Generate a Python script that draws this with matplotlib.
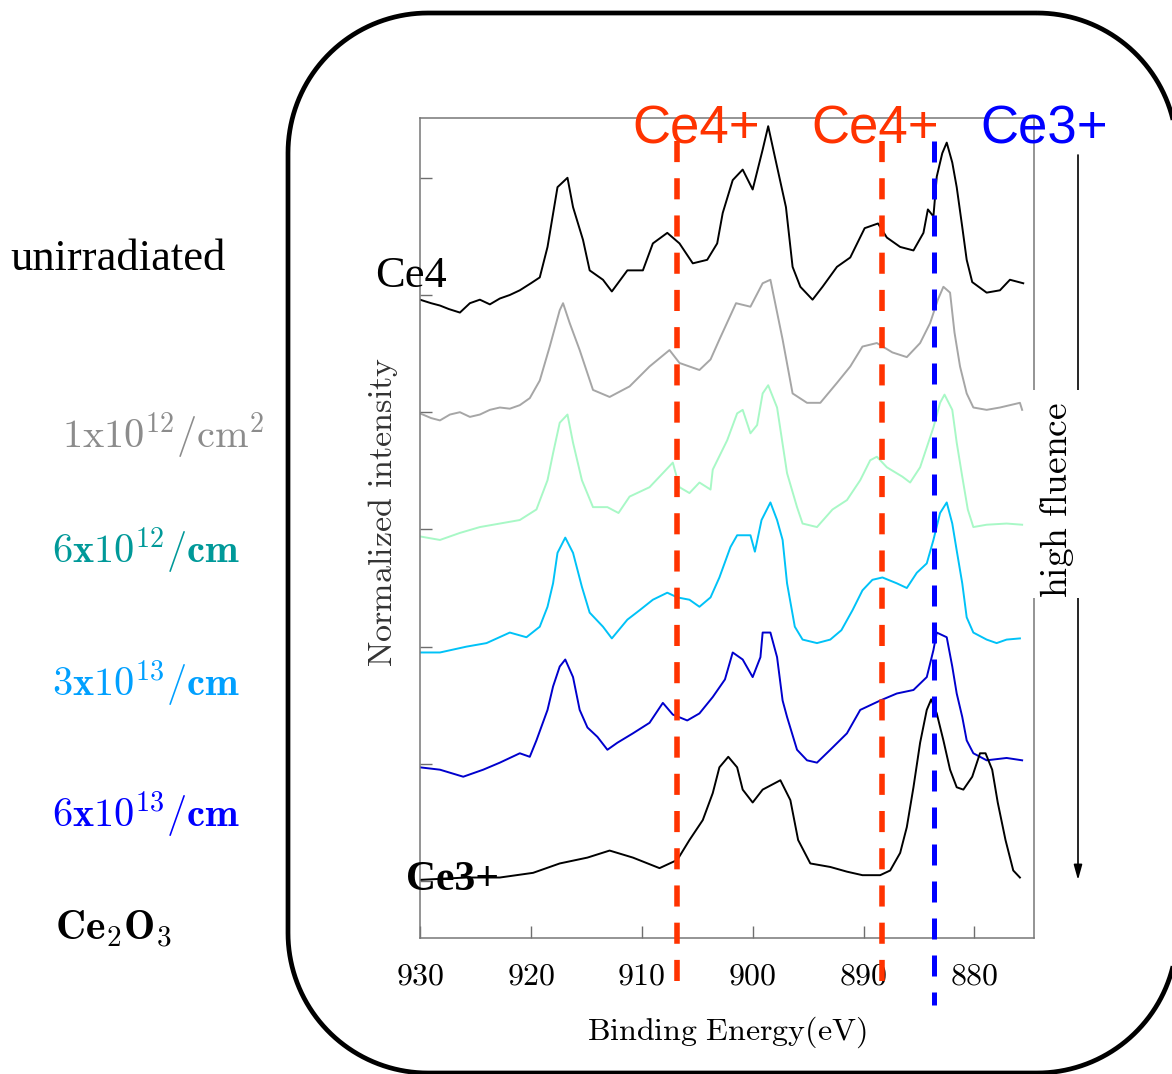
import numpy as np
import matplotlib.pyplot as plt
from matplotlib.patches import PathPatch, Rectangle
from matplotlib.path import Path

plt.rcParams['mathtext.fontset'] = 'cm'

# XPS Ce 3d spectra, binding energy (eV) vs normalized intensity (stacked with offsets)
e_unirr = [930.0, 929.0, 928.2, 927.4, 926.4, 925.5, 924.6, 923.7, 922.8, 921.9, 921.0, 920.0,
           919.2, 918.5, 917.6, 916.7, 916.2, 915.3, 914.7, 913.5, 912.7, 911.3, 909.9, 909.0,
           907.7, 906.6, 905.4, 904.1, 903.2, 902.7, 901.8, 900.9, 900.0, 899.1, 898.6, 898.0,
           897.0, 896.4, 895.7, 894.6, 893.7, 892.4, 891.2, 889.9, 888.7, 887.9, 886.7, 885.5,
           884.6, 884.2, 883.7, 883.4, 882.9, 882.5, 882.0, 881.6, 881.1, 880.7, 880.2, 878.9,
           877.7, 876.8, 875.6]
i_unirr = [4.96, 4.93, 4.91, 4.88, 4.85, 4.93, 4.96, 4.92, 4.97, 5.00, 5.04, 5.10,
           5.15, 5.41, 5.92, 6.00, 5.75, 5.47, 5.21, 5.13, 5.03, 5.21, 5.21, 5.44,
           5.53, 5.44, 5.27, 5.30, 5.44, 5.70, 5.98, 6.07, 5.90, 6.24, 6.44, 6.18,
           5.75, 5.24, 5.07, 4.96, 5.07, 5.24, 5.32, 5.57, 5.61, 5.49, 5.41, 5.38,
           5.53, 5.73, 5.67, 6.01, 6.21, 6.30, 6.13, 5.92, 5.58, 5.30, 5.11, 5.02,
           5.04, 5.13, 5.10]

e_1e12 = [930.0, 929.0, 928.2, 927.3, 926.4, 925.5, 924.6, 923.7, 922.8, 921.9, 921.0, 920.1,
          919.2, 918.3, 917.4, 917.1, 916.5, 915.6, 914.4, 912.9, 911.1, 909.3, 907.5, 906.6,
          904.8, 903.8, 903.0, 901.5, 900.2, 899.1, 898.4, 897.3, 896.4, 895.1, 893.9, 892.4,
          891.2, 890.1, 888.8, 887.4, 886.1, 884.9, 884.0, 883.3, 882.8, 882.2, 881.8, 881.3,
          880.7, 880.1, 878.9, 877.7, 875.9, 875.7]
i_1e12 = [3.99, 3.95, 3.93, 3.98, 4.00, 3.96, 3.98, 4.02, 4.04, 4.03, 4.06, 4.12,
          4.27, 4.56, 4.87, 4.93, 4.76, 4.53, 4.19, 4.13, 4.22, 4.39, 4.53, 4.42,
          4.36, 4.45, 4.62, 4.93, 4.90, 5.10, 5.13, 4.62, 4.16, 4.08, 4.08, 4.25,
          4.39, 4.56, 4.59, 4.51, 4.47, 4.59, 4.76, 4.96, 5.07, 5.02, 4.68, 4.39,
          4.16, 4.04, 4.02, 4.04, 4.08, 4.02]

e_6e12 = [930.0, 928.2, 926.4, 924.6, 922.8, 921.0, 919.5, 918.5, 918.0, 917.4, 916.7, 916.2,
          915.4, 914.4, 913.1, 912.1, 911.1, 909.3, 907.2, 906.6, 905.7, 904.8, 903.8, 903.6,
          902.3, 901.4, 900.9, 900.2, 899.6, 899.1, 898.6, 897.8, 896.9, 896.0, 895.5, 894.2,
          892.8, 891.5, 890.3, 889.4, 888.8, 887.9, 886.5, 885.8, 884.9, 884.3, 883.7, 883.1,
          882.7, 882.0, 881.6, 881.1, 880.6, 880.1, 878.9, 877.1, 875.7]
i_6e12 = [2.94, 2.91, 2.97, 3.02, 3.05, 3.08, 3.17, 3.42, 3.65, 3.91, 3.98, 3.74,
          3.42, 3.19, 3.19, 3.14, 3.28, 3.36, 3.57, 3.36, 3.31, 3.40, 3.34, 3.51,
          3.76, 3.99, 4.02, 3.82, 3.89, 4.16, 4.23, 4.04, 3.48, 3.19, 3.05, 3.02,
          3.17, 3.25, 3.42, 3.59, 3.62, 3.53, 3.45, 3.40, 3.53, 3.70, 3.87, 4.08,
          4.15, 4.02, 3.74, 3.45, 3.17, 3.02, 3.04, 3.05, 3.04]

e_3e13 = [930.0, 928.2, 925.8, 924.0, 921.9, 920.4, 919.2, 918.5, 918.0, 917.6, 916.9, 916.2,
          915.4, 914.7, 913.5, 912.7, 911.3, 910.2, 909.0, 907.7, 906.8, 905.7, 904.8, 903.8,
          903.0, 902.0, 901.4, 900.2, 899.8, 899.2, 898.4, 897.8, 897.3, 896.9, 896.2, 895.5,
          894.2, 893.0, 892.0, 891.0, 890.1, 889.2, 888.3, 887.0, 886.1, 885.2, 884.3, 883.7,
          883.1, 882.5, 882.0, 881.6, 881.1, 880.7, 880.1, 878.9, 878.0, 877.1, 875.9]
i_3e13 = [1.95, 1.95, 2.00, 2.03, 2.12, 2.08, 2.17, 2.34, 2.54, 2.80, 2.93, 2.80,
          2.51, 2.29, 2.17, 2.07, 2.23, 2.31, 2.40, 2.46, 2.42, 2.40, 2.34, 2.42,
          2.59, 2.85, 2.95, 2.95, 2.81, 3.08, 3.23, 3.08, 2.91, 2.54, 2.17, 2.06,
          2.03, 2.06, 2.14, 2.31, 2.48, 2.57, 2.59, 2.54, 2.50, 2.63, 2.71, 2.91,
          3.14, 3.23, 3.05, 2.82, 2.54, 2.25, 2.12, 2.06, 2.03, 2.06, 2.07]

e_6e13 = [930.0, 928.2, 926.1, 924.3, 922.8, 921.0, 920.1, 919.5, 918.5, 918.0, 917.4, 916.9,
          916.2, 915.6, 914.9, 914.0, 913.1, 912.2, 910.8, 909.3, 908.1, 907.2, 905.9, 904.8,
          903.6, 902.5, 901.8, 900.9, 900.0, 899.3, 899.1, 898.4, 897.8, 897.3, 896.9, 896.0,
          895.1, 894.2, 893.0, 891.5, 890.3, 888.5, 887.0, 885.5, 884.3, 883.7, 883.4, 882.5,
          882.0, 881.6, 881.1, 880.7, 880.1, 878.9, 877.1, 875.7]
i_6e13 = [0.97, 0.95, 0.89, 0.95, 1.01, 1.09, 1.06, 1.20, 1.46, 1.66, 1.83, 1.89,
          1.74, 1.46, 1.31, 1.23, 1.12, 1.18, 1.26, 1.35, 1.52, 1.42, 1.37, 1.43,
          1.57, 1.72, 1.95, 1.89, 1.74, 1.91, 2.12, 2.12, 1.91, 1.54, 1.40, 1.12,
          1.03, 1.01, 1.12, 1.26, 1.46, 1.54, 1.60, 1.63, 1.74, 1.97, 2.12, 2.08,
          1.83, 1.60, 1.40, 1.20, 1.09, 1.03, 1.05, 1.03]

e_ce2o3 = [930.0, 925.8, 922.8, 919.8, 917.4, 914.9, 912.9, 910.8, 908.4, 906.8, 905.7, 904.5,
           903.6, 903.0, 902.2, 901.4, 900.9, 900.0, 899.1, 897.5, 896.6, 895.9, 894.8, 893.0,
           891.5, 890.1, 888.5, 887.6, 886.7, 886.1, 885.5, 884.9, 884.3, 883.9, 883.4, 882.8,
           882.2, 881.6, 881.0, 880.2, 879.5, 879.0, 878.4, 877.9, 877.2, 876.5, 875.9]
i_ce2o3 = [0.01, 0.03, 0.03, 0.07, 0.15, 0.20, 0.26, 0.20, 0.11, 0.18, 0.35, 0.52,
           0.75, 0.97, 1.06, 0.97, 0.78, 0.67, 0.78, 0.86, 0.69, 0.35, 0.15, 0.12,
           0.08, 0.05, 0.05, 0.09, 0.24, 0.46, 0.80, 1.18, 1.46, 1.55, 1.43, 1.20,
           0.95, 0.80, 0.78, 0.89, 1.09, 1.09, 0.95, 0.67, 0.35, 0.09, 0.03]

curves = [
    (e_unirr, i_unirr, 'black'),
    (e_1e12, i_1e12, '#A6A6A6'),
    (e_6e12, i_6e12, '#A8F8C6'),
    (e_3e13, i_3e13, '#00C2F7'),
    (e_6e13, i_6e13, '#0000CD'),
    (e_ce2o3, i_ce2o3, 'black'),
]

ce4_peaks = [906.8, 888.3]
ce3_peak = 883.65
x_ticks = [930, 920, 910, 900, 890, 880]

sample_labels = ['unirradiated', r'$\mathrm{1x10^{12}/cm^{2}}$', r'$\mathbf{6x10^{12}/cm}$',
                 r'$\mathbf{3x10^{13}/cm}$', r'$\mathbf{6x10^{13}/cm}$',
                 r'$\mathbf{Ce_{\mathbf{2}}O_{\mathbf{3}}}$']
label_colors = ['black', '#8C8C8C', '#009999', '#00A0FF', '#0000FF', 'black']

W, H = 1172, 1074
fig = plt.figure(figsize=(W / 100, H / 100), dpi=100)

# main plot, placed in pixels
ax = fig.add_axes([420 / W, 1 - 938 / H, 614 / W, 820 / H])
for e, i, c in curves:
    ax.plot(e, i, color=c, lw=1.4, zorder=2)

ax.set_xlim(930, 874.63)
ax.set_ylim(-0.486, 6.51)
ax.set_xticks(x_ticks)
ax.set_xticklabels([f'${t}$' for t in x_ticks])
ax.set_yticks(range(7))
ax.set_yticklabels([])
ax.tick_params(direction='in', length=8.5, width=1, color='#6e6e6e', labelsize=23, pad=16)
for s in ax.spines.values():
    s.set_color('#777777')
    s.set_linewidth(1.1)

ax.set_xlabel(r'$\mathrm{Binding\ Energy(eV)}$', fontsize=23)
ax.xaxis.set_label_coords(0.5, -0.093)
ax.set_ylabel(r'$\mathrm{Normalized\ intensity}$', fontsize=24.5, color='#333333')
ax.yaxis.set_label_coords(-0.033, 0.52)

for x in ce4_peaks:
    ax.plot([x, x], [0.972, -0.068], transform=ax.get_xaxis_transform(), clip_on=False,
            color='#FF3300', lw=4, dashes=(3.8, 2.9), dash_capstyle='butt', zorder=3)
ax.plot([ce3_peak, ce3_peak], [0.972, -0.082], transform=ax.get_xaxis_transform(), clip_on=False,
        color='#0000FF', lw=3.6, dashes=(4.2, 3.2), dash_capstyle='butt', zorder=3)

# overlay in pixel coordinates (y measured from the top) for the frame and annotations
ov = fig.add_axes([0, 0, 1, 1])
ov.set_xlim(0, W)
ov.set_ylim(H, 0)
ov.axis('off')
ov.set_zorder(5)

# rounded frame: left, top, right, bottom and corner radius in pixels
fl, ft, fr, fb, rad = 288, 13, 1177, 1073, 140
corners = [(fr - rad, ft + rad, -90, 0), (fr - rad, fb - rad, 0, 90),
           (fl + rad, fb - rad, 90, 180), (fl + rad, ft + rad, 180, 270)]
pts = []
for cx, cy, a0, a1 in corners:
    a = np.radians(np.linspace(a0, a1, 40))
    pts += list(zip(cx + rad * np.cos(a), cy + rad * np.sin(a)))
pts.append(pts[0])
ov.add_patch(PathPatch(Path(pts), fill=False, edgecolor='black', lw=3.4, clip_on=False))

label_x = [10, 62, 52, 52, 52, 55]
label_y = [270, 448, 563, 697, 828, 940]
label_fs = [32, 29, 29, 29, 29, 30]
for txt, c, x, y, fs in zip(sample_labels, label_colors, label_x, label_y, label_fs):
    fam = 'Liberation Serif' if txt == 'unirradiated' else None
    ov.text(x, y, txt, color=c, fontsize=fs, ha='left', va='baseline', family=fam)

for x, txt, c in [(696, 'Ce4+', '#FF3300'), (875, 'Ce4+', '#FF3300'), (1044, 'Ce3+', '#0000FF')]:
    ov.text(x, 143, txt, color=c, fontsize=38, family='Liberation Sans',
            ha='center', va='baseline')

ov.text(411, 287, 'Ce4', fontsize=32, family='Liberation Serif', ha='center', va='baseline')
ov.text(452, 890, 'Ce3+', fontsize=30, family='Liberation Serif', weight='bold',
        ha='center', va='baseline')

# fluence arrow on the right
ov.annotate('', xy=(1078, 880), xytext=(1078, 155),
            arrowprops=dict(arrowstyle='-|>,head_length=0.9,head_width=0.25', lw=1.2,
                            color='black', shrinkA=0, shrinkB=0), zorder=1)
ov.add_patch(Rectangle((1029, 390), 58, 208, facecolor='white', edgecolor='none', zorder=2))
ov.text(1057, 500, r'$\mathrm{high\ fluence}$', fontsize=27, rotation=90,
        ha='center', va='center', zorder=3)

fig.savefig('out.png', dpi=100)
